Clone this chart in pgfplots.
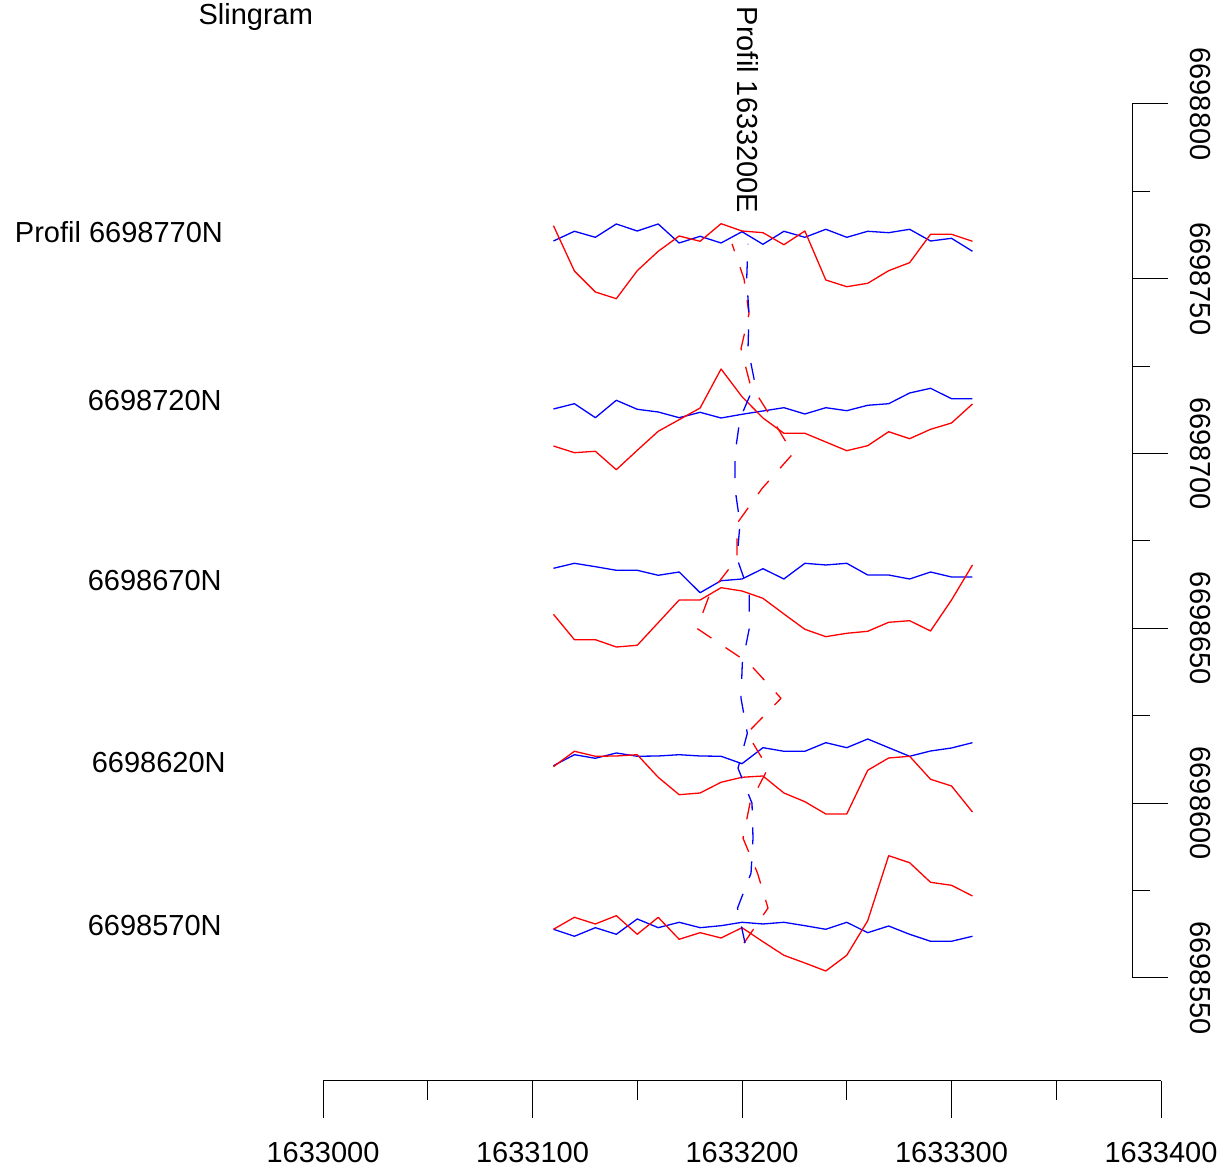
\documentclass[border=0pt]{standalone}
\usepackage{pgfplots}
\pgfplotsset{compat=1.18}
\usepackage{fontspec}
\setmainfont{Liberation Sans}
\begin{document}
\fontsize{14.5bp}{17bp}\selectfont
\begin{tikzpicture}
\begin{axis}[at={(0,0)}, anchor=south west, scale only axis,
  width=614.5bp, height=588bp,
  xmin=-154.18, xmax=432.46, ymin=-6.64, ymax=329.75,
  axis lines=none, clip=false,
  every axis plot/.append style={line width=0.65bp, line join=round},
  font=\fontsize{14.5bp}{17bp}\selectfont]
% ---- horizontal profiles (x offset from 1633000, y offset from 6698500)
% Profil 6698770N
\addplot[blue] coordinates {(110,260.81)(120,263.59)(130,261.87)(140,265.68)(150,263.67)(160,265.68)(170,260.24)(180,262.16)(190,260.24)(200,263.47)(210,259.87)(220,263.59)(230,261.87)(240,264.16)(250,261.87)(260,263.59)(270,263.19)(280,264.16)(290,260.81)(300,261.58)(310,257.87)};
\addplot[red] coordinates {(110,265.19)(120,252.23)(130,246.22)(140,244.31)(150,252.32)(160,257.87)(170,262.24)(180,260.73)(190,265.76)(200,263.67)(210,263.19)(220,259.75)(230,263.67)(240,249.66)(250,247.74)(260,248.71)(270,252.32)(280,254.61)(290,262.73)(300,262.73)(310,260.73)};
% 6698720N
\addplot[blue] coordinates {(110,212.76)(120,214.27)(130,210.27)(140,215.25)(150,212.67)(160,211.90)(170,210.27)(180,211.81)(190,210.18)(200,211.24)(210,212.19)(220,213.13)(230,211.33)(240,213.13)(250,212.27)(260,213.82)(270,214.27)(280,217.33)(290,218.68)(300,215.70)(310,215.70)};
\addplot[red] coordinates {(110,202.17)(120,200.26)(130,200.66)(140,195.39)(150,200.94)(160,206.38)(170,209.70)(180,213.04)(190,224.20)(200,216.28)(210,210.18)(220,205.81)(230,205.81)(240,203.32)(250,200.83)(260,202.26)(270,206.26)(280,204.26)(290,206.95)(300,208.75)(310,214.19)};
% 6698670N
\addplot[blue] coordinates {(110,167.19)(120,168.62)(130,167.65)(140,166.62)(150,166.62)(160,165.19)(170,166.13)(180,160.21)(190,163.64)(200,164.13)(210,167.08)(220,164.13)(230,168.62)(240,168.14)(250,168.62)(260,165.27)(270,165.27)(280,164.13)(290,166.13)(300,164.70)(310,164.70)};
\addplot[red] coordinates {(110,154.03)(120,146.77)(130,146.77)(140,144.68)(150,145.17)(160,151.63)(170,158.12)(180,158.12)(190,161.64)(200,160.70)(210,158.61)(220,154.12)(230,149.74)(240,147.63)(250,148.60)(260,149.17)(270,151.74)(280,152.20)(290,149.26)(300,158.12)(310,168.14)};
% 6698620N
\addplot[blue] coordinates {(110,110.73)(120,113.87)(130,112.84)(140,114.36)(150,113.42)(160,113.50)(170,113.87)(180,113.50)(190,113.42)(200,111.30)(210,115.88)(220,114.85)(230,114.85)(240,117.31)(250,115.88)(260,118.36)(270,115.88)(280,113.42)(290,114.93)(300,115.79)(310,117.31)};
\addplot[red] coordinates {(110,110.44)(120,114.85)(130,113.42)(140,113.50)(150,113.87)(160,107.41)(170,102.43)(180,102.92)(190,105.98)(200,107.41)(210,107.78)(220,102.92)(230,100.43)(240,96.91)(250,96.91)(260,109.41)(270,112.93)(280,113.42)(290,106.84)(300,104.92)(310,97.48)};
% 6698570N
\addplot[blue] coordinates {(110,63.93)(120,61.93)(130,64.39)(140,62.50)(150,66.88)(160,64.39)(170,65.93)(180,64.39)(190,64.96)(200,65.93)(210,65.45)(220,65.93)(230,64.96)(240,63.93)(250,65.93)(260,62.96)(270,64.87)(280,62.50)(290,60.50)(300,60.50)(310,61.93)};
\addplot[red] coordinates {(110,63.93)(120,67.36)(130,65.45)(140,67.82)(150,62.50)(160,67.36)(170,61.07)(180,62.96)(190,61.44)(200,64.39)(210,60.38)(220,56.49)(230,54.29)(240,52.00)(250,56.49)(260,66.39)(270,84.98)(280,82.98)(290,77.37)(300,76.52)(310,73.46)};
% ---- vertical profile 1633200E (dashed)
\addplot[red, dash pattern=on 8.5bp off 8.5bp] coordinates {(200.95,60)(212.41,70)(207.40,80)(200.48,90)(203.82,100)(212.41,110)(202.39,120)(218.62,130)(203.34,140)(178.52,150)(184.73,160)(197.61,170)(197.61,180)(209.55,190)(224.34,200)(214.32,210)(203.82,220)(199.52,230)(203.34,240)(200.95,250)(195.23,260)};
\addplot[blue, dash pattern=on 8.5bp off 8.5bp] coordinates {(201.43,60)(197.85,70)(204.30,80)(205.25,90)(204.77,100)(198.09,110)(202.53,120)(199.52,130)(200.14,140)(203.48,150)(203.48,160)(197.61,170)(199.05,180)(196.66,190)(196.66,200)(199.05,210)(206.21,220)(202.86,230)(203.34,240)(202.24,250)(202.86,260)};
% ---- bottom axis
\draw[line width=0.5bp] (axis cs:0,20.54) -- (axis cs:400,20.54);
\draw[line width=0.5bp] (axis cs:0,20.54) -- (axis cs:0,9.95);
\draw[line width=0.5bp] (axis cs:50,20.54) -- (axis cs:50,15.1);
\draw[line width=0.5bp] (axis cs:100,20.54) -- (axis cs:100,9.95);
\draw[line width=0.5bp] (axis cs:150,20.54) -- (axis cs:150,15.1);
\draw[line width=0.5bp] (axis cs:200,20.54) -- (axis cs:200,9.95);
\draw[line width=0.5bp] (axis cs:250,20.54) -- (axis cs:250,15.1);
\draw[line width=0.5bp] (axis cs:300,20.54) -- (axis cs:300,9.95);
\draw[line width=0.5bp] (axis cs:350,20.54) -- (axis cs:350,15.1);
\draw[line width=0.5bp] (axis cs:400,20.54) -- (axis cs:400,9.95);
\node[anchor=center, inner sep=0pt] at (axis cs:0,-0.06) {1633000};
\node[anchor=center, inner sep=0pt] at (axis cs:100,-0.06) {1633100};
\node[anchor=center, inner sep=0pt] at (axis cs:200,-0.06) {1633200};
\node[anchor=center, inner sep=0pt] at (axis cs:300,-0.06) {1633300};
\node[anchor=center, inner sep=0pt] at (axis cs:400,-0.06) {1633400};
% ---- right axis
\draw[line width=0.5bp] (axis cs:386.16,50) -- (axis cs:386.16,300);
\draw[line width=0.5bp] (axis cs:386.16,50) -- (axis cs:403.34,50);
\draw[line width=0.5bp] (axis cs:386.16,75) -- (axis cs:394.75,75);
\draw[line width=0.5bp] (axis cs:386.16,100) -- (axis cs:403.34,100);
\draw[line width=0.5bp] (axis cs:386.16,125) -- (axis cs:394.75,125);
\draw[line width=0.5bp] (axis cs:386.16,150) -- (axis cs:403.34,150);
\draw[line width=0.5bp] (axis cs:386.16,175) -- (axis cs:394.75,175);
\draw[line width=0.5bp] (axis cs:386.16,200) -- (axis cs:403.34,200);
\draw[line width=0.5bp] (axis cs:386.16,225) -- (axis cs:394.75,225);
\draw[line width=0.5bp] (axis cs:386.16,250) -- (axis cs:403.34,250);
\draw[line width=0.5bp] (axis cs:386.16,275) -- (axis cs:394.75,275);
\draw[line width=0.5bp] (axis cs:386.16,300) -- (axis cs:403.34,300);
\node[rotate=-90, anchor=center, inner sep=0pt] at (axis cs:418.62,50) {6698550};
\node[rotate=-90, anchor=center, inner sep=0pt] at (axis cs:418.62,100) {6698600};
\node[rotate=-90, anchor=center, inner sep=0pt] at (axis cs:418.62,150) {6698650};
\node[rotate=-90, anchor=center, inner sep=0pt] at (axis cs:418.62,200) {6698700};
\node[rotate=-90, anchor=center, inner sep=0pt] at (axis cs:418.62,250) {6698750};
\node[rotate=-90, anchor=center, inner sep=0pt] at (axis cs:418.62,300) {6698800};
% ---- labels
\node[anchor=base, inner sep=0pt] at (axis cs:-32.1,322.8) {Slingram};
\node[rotate=-90, anchor=center, inner sep=0pt] at (axis cs:202.63,298.28) {Profil 1633200E};
\node[anchor=base east, inner sep=0pt] at (axis cs:-47.59,260.35) {Profil 6698770N};
\node[anchor=base east, inner sep=0pt] at (axis cs:-48.21,212.33) {6698720N};
\node[anchor=base east, inner sep=0pt] at (axis cs:-48.21,160.84) {6698670N};
\node[anchor=base east, inner sep=0pt] at (axis cs:-46.30,108.78) {6698620N};
\node[anchor=base east, inner sep=0pt] at (axis cs:-48.21,62.16) {6698570N};
\end{axis}
\pgfresetboundingbox
\path[use as bounding box] (0,0) rectangle (614.5bp,588bp);
\end{tikzpicture}
\end{document}
